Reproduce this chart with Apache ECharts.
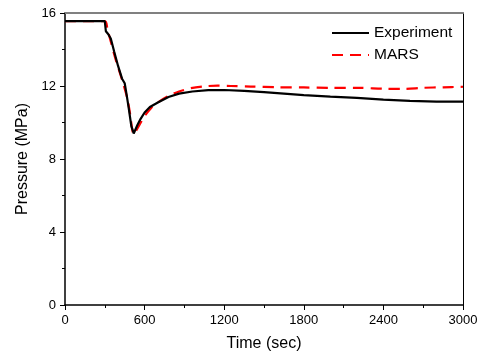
<!DOCTYPE html>
<html>
<head>
<meta charset="utf-8">
<script src="https://cdn.jsdelivr.net/npm/echarts@6/dist/echarts.min.js"></script>
<style>
  html, body { margin: 0; padding: 0; background: #fff; }
  #chart { width: 477px; height: 356px; }
</style>
</head>
<body>
<div id="chart"></div>
<script>
// Measured pressure during the transient
const expTime = [0, 100, 200, 300, 308, 315, 325, 345, 370, 400, 430, 450, 465, 480, 500, 518, 528, 545, 570, 600, 640, 700, 780, 860, 960, 1080, 1200, 1350, 1500, 1650, 1800, 2000, 2200, 2400, 2600, 2800, 3000];
const expPressure = [15.56, 15.56, 15.56, 15.56, 15.0, 14.9, 14.85, 14.6, 13.9, 13.1, 12.4, 12.15, 11.5, 10.8, 9.8, 9.4, 9.5, 9.85, 10.2, 10.55, 10.85, 11.1, 11.4, 11.58, 11.7, 11.77, 11.78, 11.73, 11.66, 11.58, 11.5, 11.42, 11.35, 11.25, 11.18, 11.14, 11.14];

// MARS code prediction
const marsTime = [0, 300, 320, 350, 380, 410, 440, 470, 490, 505, 517, 532, 560, 600, 650, 700, 780, 860, 950, 1050, 1150, 1250, 1400, 1600, 1800, 2000, 2200, 2400, 2550, 2700, 2850, 3000];
const marsPressure = [15.56, 15.56, 15.1, 14.3, 13.5, 12.8, 12.1, 11.3, 10.5, 9.7, 9.35, 9.5, 9.85, 10.35, 10.8, 11.1, 11.45, 11.7, 11.88, 11.98, 12.02, 12.0, 11.97, 11.93, 11.92, 11.9, 11.9, 11.85, 11.84, 11.9, 11.93, 11.96];

const seriesNames = ['Experiment', 'MARS'];
const xTitle = 'Time (sec)';
const yTitle = 'Pressure (MPa)';

const pair = (xs, ys) => xs.map((x, i) => [x, ys[i]]);
const FONT = '"Liberation Sans", Arial, sans-serif';
const plain = v => String(v);

const chart = echarts.init(document.getElementById('chart'), null, { renderer: 'canvas' });

chart.setOption({
  animation: false,
  backgroundColor: '#ffffff',
  textStyle: { fontFamily: FONT, color: '#000' },
  grid: { left: 65, right: 14, top: 13, bottom: 51, containLabel: false, outerBoundsMode: 'none' },
  legend: {
    orient: 'vertical',
    left: 326,
    top: 20,
    itemWidth: 37,
    itemHeight: 14,
    itemGap: 6,
    itemStyle: { opacity: 0 },
    textStyle: { fontFamily: FONT, fontSize: 15.5, color: '#000' },
    data: seriesNames
  },
  xAxis: [
    {
      type: 'value',
      position: 'bottom',
      min: 0, max: 3000, interval: 600,
      name: xTitle,
      nameLocation: 'middle',
      nameGap: 31,
      nameTextStyle: { fontFamily: FONT, fontSize: 16, color: '#000' },
      axisLine: { show: true, onZero: false, lineStyle: { color: '#000', width: 1.5 } },
      axisTick: { show: true, length: 5, lineStyle: { color: '#000', width: 1 } },
      minorTick: { show: true, splitNumber: 2, length: 3, lineStyle: { color: '#000', width: 1 } },
      axisLabel: { fontFamily: FONT, fontSize: 13, color: '#000', margin: 9, formatter: plain },
      splitLine: { show: false }
    },
    {
      type: 'value',
      position: 'top',
      min: 0, max: 3000,
      axisLine: { show: true, onZero: false, lineStyle: { color: '#808080', width: 2 } },
      axisTick: { show: false },
      axisLabel: { show: false },
      splitLine: { show: false }
    }
  ],
  yAxis: [
    {
      type: 'value',
      position: 'left',
      min: 0, max: 16, interval: 4,
      name: yTitle,
      nameLocation: 'middle',
      nameGap: 31,
      nameTextStyle: { fontFamily: FONT, fontSize: 16, color: '#000' },
      axisLine: { show: true, onZero: false, lineStyle: { color: '#000', width: 1.5 } },
      axisTick: { show: true, length: 5, lineStyle: { color: '#000', width: 1 } },
      minorTick: { show: true, splitNumber: 2, length: 3, lineStyle: { color: '#000', width: 1 } },
      axisLabel: { fontFamily: FONT, fontSize: 13, color: '#000', margin: 9, formatter: plain },
      splitLine: { show: false }
    },
    {
      type: 'value',
      position: 'right',
      min: 0, max: 16,
      axisLine: { show: true, onZero: false, lineStyle: { color: '#000', width: 1 } },
      axisTick: { show: false },
      axisLabel: { show: false },
      splitLine: { show: false }
    }
  ],
  series: [
    {
      name: seriesNames[0],
      type: 'line',
      xAxisIndex: 0,
      yAxisIndex: 0,
      data: pair(expTime, expPressure),
      symbol: 'none',
      z: 3,
      lineStyle: { color: '#000', width: 2.2, type: 'solid' },
      itemStyle: { color: '#000' }
    },
    {
      name: seriesNames[1],
      type: 'line',
      xAxisIndex: 0,
      yAxisIndex: 0,
      data: pair(marsTime, marsPressure),
      symbol: 'none',
      smooth: 0.3,
      z: 2,
      lineStyle: { color: '#ff0000', width: 2.2, type: [11, 7] },
      itemStyle: { color: '#ff0000' }
    }
  ]
});
</script>
</body>
</html>
